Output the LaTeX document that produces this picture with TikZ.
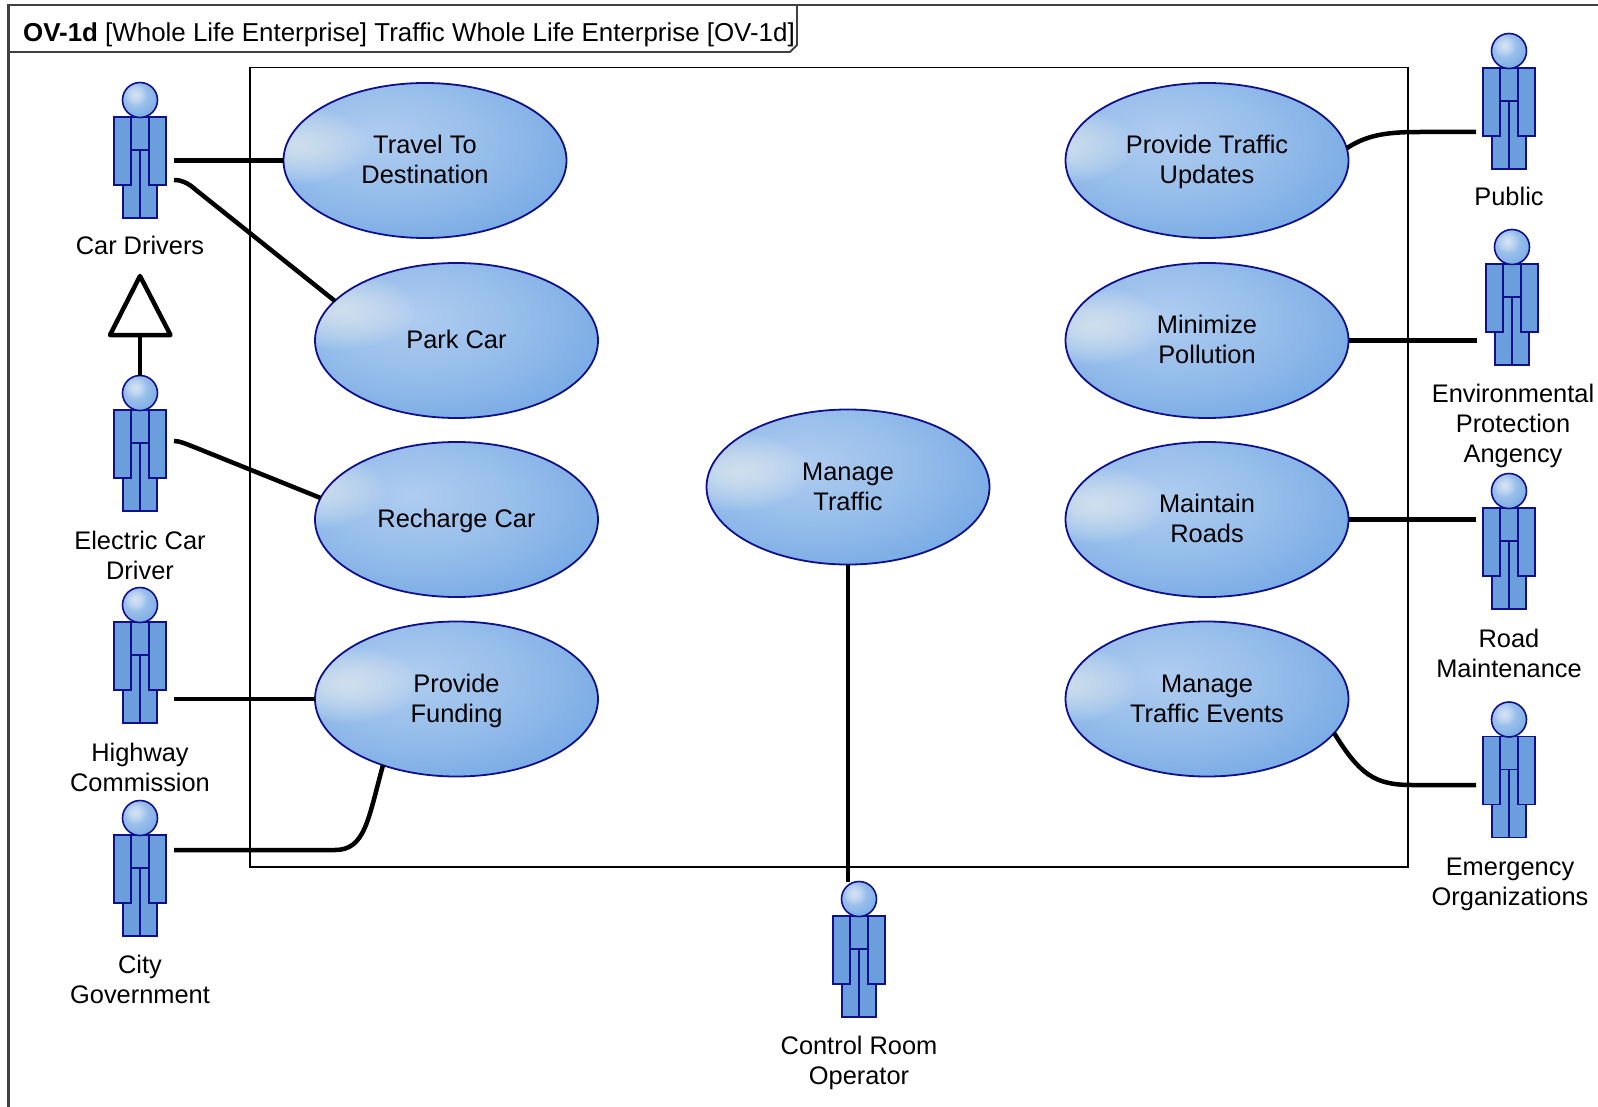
\documentclass[tikz,border=0pt]{standalone}
\usepackage{fontspec}
\usetikzlibrary{shapes.geometric}
\setmainfont{Liberation Sans}
\definecolor{navy}{HTML}{10108C}
\definecolor{armblue}{HTML}{6A9EDC}
\definecolor{frameg}{HTML}{404040}
\definecolor{blobA}{HTML}{AFCCF0}
\definecolor{blobB}{HTML}{96BDEA}
\definecolor{blobC}{HTML}{74A8E4}
\definecolor{blobD}{HTML}{5A92DB}
\pgfdeclareradialshading{blob}{\pgfpoint{-8bp}{8bp}}{
  color(0bp)=(blobA); color(18bp)=(blobB); color(36bp)=(blobC); color(52bp)=(blobD); color(100bp)=(blobD)}
\newcommand{\st}{\rule[-7pt]{0pt}{30pt}}
\tikzset{
  x=1pt,y=-1pt,
  usecase/.style={ellipse,draw=navy,line width=1.8pt,shading=blob,minimum width=283pt,minimum height=155pt,
    inner sep=0pt,outer sep=0pt,align=center,font=\fontsize{25.4pt}{30pt}\selectfont,
    path picture={\begin{scope}[shift={(path picture bounding box.center)}]
      \foreach \k in {1,...,16} \fill[white,opacity=.05] (-66,-38) ellipse [x radius=\k*4.6,y radius=\k*2.4];
      \end{scope}}},
  lbl/.style={align=center,inner sep=0pt,outer sep=0pt,font=\fontsize{25.4pt}{30pt}\selectfont},
  conn/.style={line width=4.5pt,black},
  part/.style={draw=navy,line width=1.6pt,fill=armblue},
  headnode/.style={circle,draw=navy,line width=1.6pt,shading=blob,minimum size=35pt,inner sep=0pt,outer sep=0pt,
    path picture={\begin{scope}[shift={(path picture bounding box.center)}]
      \foreach \k in {1,...,10} \fill[white,opacity=.07] (-4,-5) circle [radius=\k*1.1];
      \end{scope}}},
  actor/.pic={
    \path[part] (-17,50) rectangle (0,118);
    \path[part] (0,50) rectangle (17,118);
    \path[part] (-26,17) rectangle (-9,85);
    \path[part] (9,17) rectangle (26,85);
    \path[part] (-9,17) rectangle (9,50);
    \node[headnode] (-head) at (0,0) {};
  }
}
\begin{document}
\begin{tikzpicture}
\useasboundingbox (0,0) rectangle (1598,1107);
\fill[white] (0,0) rectangle (1598,1107);
% frame
\coordinate (frameTL) at (8.5,5);
\coordinate (frameBL) at (8.5,1107);
\coordinate (frameTR) at (1598,5);
\draw[frameg,line width=2.4pt] (frameBL) -- (frameTL) -- (frameTR);
\draw[frameg,line width=1.8pt] (8.5,52) -- (790,52) -- (797,45) -- (797,5);
\node[anchor=base west,inner sep=0pt,font=\fontsize{25.9pt}{30pt}\selectfont] (title) at (23,42)
  {\textbf{OV-1d} [Whole Life Enterprise] Traffic Whole Life Enterprise [OV-1d]};
% system boundary
\draw[black,line width=1.6pt] (250,67.5) rectangle (1408,867);
% use cases
\node[usecase] (travel) at (425,160.5) {\st Travel To\\\st Destination};
\node[usecase] (park) at (456.5,340.5) {\st Park Car};
\node[usecase] (recharge) at (456.5,519.5) {\st Recharge Car};
\node[usecase] (funding) at (456.5,699) {\st Provide\\\st Funding};
\node[usecase] (traffic) at (848,487) {\st Manage\\\st Traffic};
\node[usecase] (updates) at (1207,160.5) {\st Provide Traffic\\\st Updates};
\node[usecase] (pollution) at (1207,340.5) {\st Minimize\\\st Pollution};
\node[usecase] (roads) at (1207,519.5) {\st Maintain\\\st Roads};
\node[usecase] (events) at (1207,699) {\st Manage\\\st Traffic Events};
% actors
\pic (car) at (140,100) {actor};
\pic (elec) at (140,393) {actor};
\pic (high) at (140,605) {actor};
\pic (city) at (140,818) {actor};
\pic (ctrl) at (859,899) {actor};
\pic (pub) at (1509,51) {actor};
\pic (epa) at (1512,247) {actor};
\pic (road) at (1509,491) {actor};
\pic (emer) at (1509,719.5) {actor};
% labels
\node[lbl] (carL) at (140,247) {\st Car Drivers};
\node[lbl] (elecL) at (140,556) {\st Electric Car\\\st Driver};
\node[lbl] (highL) at (140,768) {\st Highway\\\st Commission};
\node[lbl] (cityL) at (140,980) {\st City\\\st Government};
\node[lbl] (ctrlL) at (859,1061) {\st Control Room\\\st Operator};
\node[lbl] (pubL) at (1509,198) {\st Public};
\node[lbl] (epaL) at (1513,424) {\st Environmental\\\st Protection\\\st Angency};
\node[lbl] (roadL) at (1509,654) {\st Road\\\st Maintenance};
\node[lbl] (emerL) at (1510,882) {\st Emergency\\\st Organizations};
% connector ends at actors
\coordinate (carA) at (174,160.5);
\coordinate (carB) at (174,180);
\coordinate (elecA) at (174,441);
\coordinate (highA) at (174,699);
\coordinate (cityA) at (174,850);
\coordinate (ctrlA) at (848,882);
\coordinate (pubA) at (1476,132);
\coordinate (epaA) at (1477,340.5);
\coordinate (roadA) at (1476,519.5);
\coordinate (emerA) at (1476,785);
% connectors
\draw[conn] (carA) -- (travel.west);
\draw[conn] (carB) .. controls (182,180) and (188,183) .. (196,190) -- (park.162.4);
\draw[conn] (elecA) .. controls (180,441) and (186,444) .. (194,447) -- (recharge.171.4);
\draw[conn] (highA) -- (funding.west);
\draw[conn] (cityA) -- (335,850) .. controls (365,850) and (368,820) .. (funding.222);
\draw[conn] (traffic.south) -- (ctrlA);
\draw[conn] (pubA) -- (1420,132) .. controls (1390,132) and (1368,134) .. (updates.5.3);
\draw[conn] (epaA) -- (pollution.east);
\draw[conn] (roadA) -- (roads.east);
\draw[conn] (emerA) -- (1412,785) .. controls (1375,785) and (1360,775) .. (events.-15.8);
% generalization
\coordinate (triApex) at (140,276);
\coordinate (triL) at (110,335);
\coordinate (triR) at (170.5,335);
\coordinate (triBase) at (140,335);
\draw[conn,line join=round] (triApex) -- (triL) -- (triR) -- cycle;
\draw[conn] (elec-head.north) -- (triBase);
\end{tikzpicture}
\end{document}
